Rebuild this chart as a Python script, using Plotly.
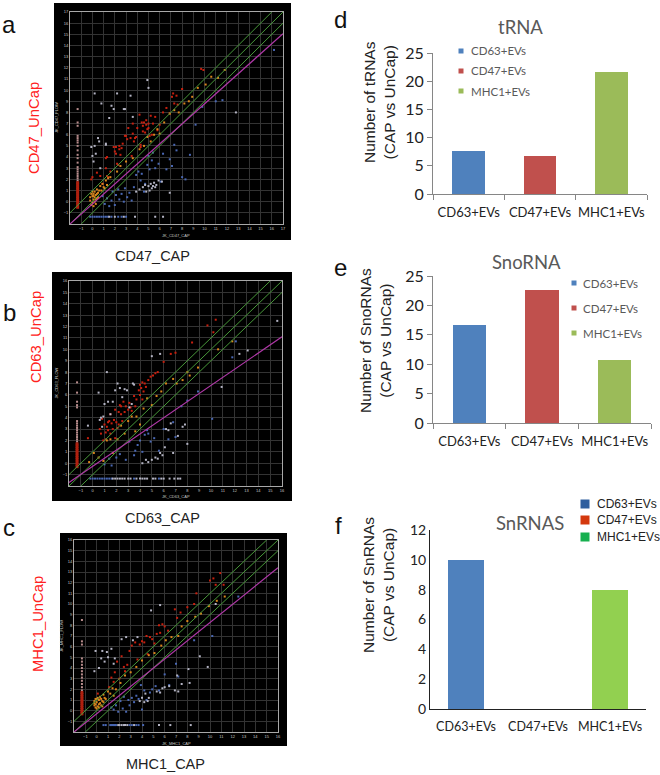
import plotly.graph_objects as go

W, H = 660, 775

CATEGORIES = ["CD63+EVs", "CD47+EVs", "MHC1+EVs"]
TRNA_VALUES = [7.7, 6.7, 21.7]
SNORNA_VALUES = [16.7, 22.7, 10.7]
SNRNA_VALUES = [10, 0, 8]
TRNA_TICKS = [0, 5, 10, 15, 20, 25]
SNRNA_TICKS = [0, 2, 4, 6, 8, 10, 12]

# panel a, CD47
A_TICKS = list(range(-1, 18))
A_MAGENTA_X = [-2, 17]
A_MAGENTA_Y = [-2, 15.05]
A_GREEN_X = [[-2, 16], [-2, 17], [-1, 17]]
A_GREEN_Y = [[-1, 17], [-2, 17], [-2, 16]]
A_RED_X = [0.0, -0.1, 0.4, 0.7, 0.9, 1.2, 1.3, 1.4, 1.6, 1.9, 2.0, 2.1, 2.3, 2.4, 2.5, 2.7, 2.9, 3.0, 3.1, 3.2, 3.4, 3.5, 3.6, 3.7, 3.9, 4.0, 4.2, 4.3, 4.4, 4.5, 4.6, 4.7, 4.8, 4.9, 5.0, 5.1, 5.2, 5.3, 5.4, 5.6, 5.8, 6.0, 6.3, 6.6, 6.9, 7.1, 7.2, 7.3, 7.5, 7.6, 8.0, 9.7, 9.9, 1.2, 1.3, 2.1, 2.2, 2.4, 2.6, 3.6, 3.8, 4.3, 4.5, 4.8, 5.0]
A_RED_Y = [2.2, 2.0, 2.6, 2.3, 1.6, 3.9, 4.0, 2.2, 2.7, 4.9, 4.5, 4.9, 3.3, 4.7, 4.2, 5.2, 5.9, 5.9, 5.6, 6.6, 5.7, 4.1, 7.0, 5.4, 5.8, 6.6, 7.8, 5.1, 7.1, 6.8, 7.1, 6.2, 6.9, 6.5, 7.0, 5.9, 7.7, 6.0, 7.0, 7.6, 6.4, 6.9, 8.0, 8.4, 7.9, 9.4, 9.7, 8.8, 9.5, 8.7, 10.1, 11.9, 11.8, 3.0, 2.3, 4.3, 3.4, 5.0, 4.8, 6.1, 5.7, 4.9, 6.3, 7.3, 6.6]
A_ORANGE_X = [-0.2, -0.1, 0.0, 0.0, 0.1, 0.1, 0.1, 0.2, 0.2, 0.3, 0.3, 0.4, 0.4, 0.5, 0.7, 0.9, 1.1, 1.2, 1.4, 1.6, 2.2, 2.5, 3.0, 3.6, 4.2, 4.6, 4.9, 5.2, 5.5, 5.8, 6.0, 6.4, 6.9, 7.3, 7.7, 8.2, 8.6, 8.9, 9.4, 10.1, 10.6, 11.2, 11.8, -0.2, -0.1, 0.0, 0.1, 0.2, 0.3, 0.4, 0.5, 0.6, 0.8, 1.0, 1.3]
A_ORANGE_Y = [0.1, -0.3, 0.5, -0.1, 0.7, 0.2, -0.4, 0.9, 0.4, 0.6, -0.2, 0.3, 1.1, 0.8, 1.4, 1.6, 1.2, 1.9, 2.1, 2.2, 2.7, 3.2, 3.6, 3.9, 4.7, 5.0, 5.8, 5.4, 6.0, 6.5, 6.1, 7.1, 7.9, 8.2, 8.0, 8.8, 9.0, 9.4, 10.2, 10.5, 11.2, 11.1, 11.8, 0.4, 0.7, 0.9, 0.5, 0.0, 0.2, 0.7, 0.4, 1.0, 1.0, 1.3, 1.5]
A_BLUE_X = [0.9, 1.1, 1.3, 1.5, 1.7, 1.8, 2.0, 2.1, 2.3, 2.4, 2.6, 2.8, 2.9, 3.1, 3.3, 3.5, 3.7, 3.9, 4.1, 4.3, 4.4, 4.6, 4.7, 4.9, 5.0, 5.1, 5.3, 5.4, 5.6, 5.9, 6.1, 6.3, 6.6, 6.9, 7.1, 7.3, 7.5, 8.0, 8.3, 8.7, 9.2, 9.8, 11.0, 11.6, 16.2]
A_BLUE_Y = [0.5, -0.2, 0.3, -0.4, 0.1, 0.9, -0.3, 0.6, 1.1, 0.2, 0.7, 0.0, 1.2, 0.4, 0.8, 0.1, 1.3, 2.4, 2.7, 1.9, 2.5, 0.9, 1.6, 3.3, 4.1, 2.9, 3.7, 4.4, 3.0, 3.4, 1.8, 4.3, 2.9, 3.8, 3.2, 5.1, 4.6, 2.2, 2.0, 4.2, 6.9, 8.5, 9.0, 9.1, 13.6]
A_LIGHT_X = [-0.1, 0.0, 0.1, 0.2, 0.3, 0.5, 0.6, 0.7, 1.2, 1.5, 1.7, 2.2, 2.8, 3.6, 0.2, 0.8, 1.2, 1.9, 2.9, 3.4, 3.9, 4.2, 4.5, 4.7, 4.8, 5.0, 5.1, 5.2, 5.3, 5.4, 5.5, 5.6, 5.7, 5.9, 6.2, 6.9, 4.9, 5.0, 12.8]
A_LIGHT_Y = [4.9, 4.1, 3.6, 5.0, 4.3, 5.7, 5.4, 3.0, 5.2, 7.5, 8.6, 9.7, 8.3, 7.6, 9.7, 8.8, 5.1, 8.3, 8.3, 9.5, 0.9, 1.1, 1.3, 1.5, 0.9, 1.4, 1.0, 1.6, 1.2, 1.4, 1.7, 1.3, 1.5, 1.9, 1.8, 0.8, 10.9, 10.2, 8.0]
A_STRIP_X = -1.32
A_STRIP_RED = [-0.5, -0.3, -0.1, 0.1, 0.3, 0.5, 0.7, 0.9, 1.1, 1.3, 1.5, 1.7]
A_STRIP_PINK = [1.9, 2.1, 2.3, 2.5, 2.7, 2.9, 3.1, 3.5, 3.9, 4.2, 4.6, 5.0, 5.3, 5.5, 5.7, 5.9, 6.8, 7.1, 8.3]
A_ROW_Y = -1.35
A_ROW_BLUE = [-0.2, 0.0, 0.2, 0.4, 0.6, 0.8, 1.0, 1.2, 1.4, 1.7, 2.3, 2.6, 3.0]
A_ROW_LIGHT = [1.5, 2.0, 2.8, 3.8, 5.6, 6.3]

# panel b, CD63
B_TICKS = list(range(-1, 17))
B_MAGENTA_X = [-2, 16]
B_MAGENTA_Y = [-1.7, 11.1]
B_GREEN_X = [[-2, 15], [-2, 16], [-1, 16]]
B_GREEN_Y = [[-1, 16], [-2, 16], [-2, 15]]
B_RED_X = [-0.4, 0.6, 0.7, 0.8, 0.9, 1.0, 1.1, 1.2, 1.3, 1.4, 1.5, 1.6, 1.7, 1.8, 1.9, 2.0, 2.1, 2.2, 2.3, 2.4, 2.5, 2.6, 2.8, 3.0, 3.2, 3.5, 3.7, 3.9, 4.0, 4.1, 4.2, 4.3, 4.5, 4.7, 4.9, 5.1, 5.3, 5.5, 6.0, 6.6, 7.0, 8.4, 9.7, 10.2, 10.4, 1.1, 1.3, 1.5, 1.9, 2.2, 2.4, 2.7, 3.1, 3.3, 3.6, 4.0, 4.2, 4.4]
B_RED_Y = [2.2, 3.0, 2.6, 3.9, 2.0, 3.4, 2.1, 3.2, 2.9, 3.7, 4.3, 3.5, 3.0, 3.8, 4.7, 3.6, 3.1, 4.5, 5.1, 4.3, 3.7, 5.4, 5.0, 4.7, 4.9, 5.9, 5.6, 6.4, 6.9, 6.6, 7.1, 6.3, 6.7, 7.3, 7.6, 7.7, 7.9, 8.0, 8.9, 9.6, 9.7, 10.6, 12.1, 11.5, 12.6, 2.7, 3.6, 2.6, 2.2, 3.4, 5.0, 4.5, 5.3, 4.6, 5.0, 6.0, 5.6, 7.0]
B_ORANGE_X = [-0.3, 0.1, 0.5, 0.9, 1.2, 1.5, 1.7, 2.1, 2.4, 2.7, 3.0, 3.3, 3.6, 3.7, 4.0, 4.3, 4.6, 5.0, 5.4, 5.8, 6.2, 6.8, 7.1, 7.6, 8.0, 8.2, 8.9, 10.6, 11.8]
B_ORANGE_Y = [0.1, 0.9, 0.5, 0.2, 2.0, 2.1, 0.9, 2.1, 3.3, 2.6, 3.7, 4.1, 2.8, 4.1, 3.4, 4.8, 5.7, 5.1, 5.9, 6.3, 7.0, 7.4, 7.0, 7.3, 8.0, 7.7, 8.4, 10.0, 10.7]
B_BLUE_X = [1.0, 1.4, 1.6, 2.0, 2.3, 2.8, 3.1, 3.5, 3.6, 3.8, 4.0, 4.2, 4.4, 4.6, 4.7, 4.9, 5.2, 5.6, 6.0, 6.4, 6.8, 7.0, 7.5, 8.0, 8.9, 10.1, 11.8, 12.1]
B_BLUE_Y = [-0.1, 0.4, -0.2, 0.5, 0.8, 0.3, 1.9, 0.7, 1.1, 1.6, 2.0, 1.0, 2.5, 2.9, 2.6, 1.9, 2.2, 1.1, 3.0, 2.1, 3.6, 2.3, 5.0, 5.5, 6.3, 3.9, 9.3, 10.7]
B_LIGHT_X = [0.6, 0.7, 0.8, 0.9, 1.0, 1.3, 1.5, 1.7, 1.9, 2.1, 2.3, 2.5, 2.7, 2.9, 3.1, 3.3, 3.5, 1.2, 3.4, 4.2, 4.5, 4.7, 5.0, 5.3, 5.5, 5.7, 5.9, 6.1, 6.2, 6.4, 6.6, 6.8, 7.2, 7.6, 7.8, 8.0, 10.9, 12.4, 13.1, 15.6, 5.0, 5.7, -0.4, 0.5]
B_LIGHT_Y = [3.8, 4.0, 3.2, 4.1, 5.2, 5.4, 4.3, 5.4, 6.4, 7.0, 6.6, 5.8, 6.5, 6.4, 4.9, 5.2, 6.9, 8.0, 7.0, 0.0, 0.3, 0.1, 0.3, 0.5, 0.4, 0.9, 0.7, 1.4, 3.0, 2.9, 3.5, 0.9, 2.4, 3.2, 3.4, 1.7, 6.7, 9.6, 9.9, 12.5, 9.4, 9.6, 3.3, 6.2]
B_STRIP_X = -1.32
B_STRIP_RED = [-0.3, -0.1, 0.1, 0.3, 0.5, 0.7, 0.9, 1.1, 1.3, 1.5, 1.7]
B_STRIP_PINK = [1.9, 2.1, 2.3, 2.5, 2.7, 2.9, 3.1, 3.3, 3.5, 3.7, 4.9, 5.1, 5.4, 6.2, 7.1]
B_ROW_Y = -1.35
B_ROW_BLUE = [-0.2, 0.0, 0.2, 0.4, 0.6, 0.8, 1.0, 1.2, 1.4, 1.6, 3.5, 5.6]
B_ROW_LIGHT = [1.7, 1.9, 2.1, 2.3, 2.5, 2.7, 3.0, 3.2, 3.7, 4.0, 4.2, 4.4, 4.6, 5.1, 5.3, 5.8, 6.0, 6.5, 6.9, 7.2, 7.4]

# panel c, MHC1
C_TICKS = list(range(-1, 17))
C_MAGENTA_X = [-2, 16]
C_MAGENTA_Y = [-2, 13.4]
C_GREEN_X = [[-2, 15], [-2, 16], [-1, 16]]
C_GREEN_Y = [[-1, 16], [-2, 16], [-2, 15]]
C_RED_X = [0.1, 0.3, 1.1, 1.3, 1.5, 1.6, 1.8, 2.0, 2.2, 2.4, 2.5, 2.7, 2.9, 3.1, 3.4, 3.6, 3.8, 4.0, 4.2, 4.4, 4.5, 4.7, 4.9, 5.1, 5.3, 5.5, 5.6, 5.8, 6.0, 6.3, 6.9, 7.1, 7.4, 8.0, 8.6, 8.8, 10.0, 10.3, 10.5, 10.9, 11.2]
C_RED_Y = [1.6, 1.2, 2.2, 3.1, 2.7, 3.6, 4.6, 3.0, 5.1, 4.1, 3.7, 4.3, 5.6, 6.1, 6.4, 4.8, 6.2, 6.5, 6.4, 7.0, 5.3, 6.9, 6.7, 6.3, 7.2, 8.0, 7.3, 8.1, 7.9, 7.5, 9.5, 8.7, 9.2, 9.7, 10.0, 11.0, 12.2, 12.4, 11.8, 12.9, 11.8]
C_ORANGE_X = [-0.2, -0.2, -0.1, -0.1, 0.0, 0.0, 0.1, 0.1, 0.2, 0.2, 0.3, 0.3, 0.4, 0.5, 0.6, 0.8, 1.0, 1.2, 1.4, 1.5, 1.7, 2.1, 2.5, 3.0, 3.5, 4.0, 4.6, 5.1, 5.7, 6.1, 6.6, 7.2, 7.5, 8.0, 8.7, 9.2, 9.9, 10.6, 11.3, -0.2, -0.1, 0.0, 0.2, 0.4, 0.5, 0.6, 0.7]
C_ORANGE_Y = [0.5, 0.9, 0.3, 1.1, 0.2, 0.8, 1.2, 0.4, 1.0, 0.3, 0.7, 1.3, 0.5, 0.9, 1.5, 1.1, 1.8, 1.6, 2.1, 1.4, 2.0, 2.6, 3.3, 3.6, 4.1, 4.7, 5.2, 5.4, 6.1, 6.6, 6.9, 7.0, 7.9, 8.4, 8.8, 9.1, 9.8, 10.3, 10.7, 0.7, 0.6, 1.1, 0.6, 1.1, 0.4, 0.8, 1.2]
C_BLUE_X = [1.3, 1.5, 1.7, 1.9, 2.1, 2.3, 2.4, 2.6, 2.8, 2.9, 3.1, 3.3, 3.5, 3.7, 3.9, 4.0, 4.2, 4.4, 4.7, 4.9, 5.2, 5.5, 6.0, 6.4, 7.0, 7.2, 8.6, 10.2, 12.5]
C_BLUE_Y = [0.3, 0.1, 0.5, -0.1, 0.9, 0.2, 1.3, -0.1, 1.0, 0.5, 1.2, 0.8, 1.4, 1.1, 2.4, 0.1, 1.9, 1.0, 1.7, 2.0, 2.3, 1.9, 3.4, 2.4, 4.4, 3.2, 6.6, 7.0, 10.7]
C_LIGHT_X = [-0.2, -0.1, 0.2, 0.4, 0.5, 0.7, 0.9, 1.0, 1.3, 1.5, 1.6, 2.2, 2.6, 3.2, 3.6, 3.8, 4.0, 4.2, 4.3, 4.5, 4.6, 5.3, 5.6, 5.8, 6.0, 6.4, 6.9, 7.1, 7.2, 7.5, 8.1, 8.2, 9.1, 9.8, 4.8, 5.6, 10.5]
C_LIGHT_Y = [3.7, 5.6, 4.0, 4.9, 5.6, 4.6, 5.5, 5.0, 5.8, 4.4, 4.9, 6.7, 6.9, 6.6, 6.9, 0.9, 1.2, 0.8, 1.6, 0.9, 1.2, 1.8, 1.7, 2.1, 2.2, 2.3, 1.9, 3.3, 1.8, 2.5, 3.9, 2.6, 5.1, 4.1, 9.4, 9.9, 10.0]
C_STRIP_X = -1.3
C_STRIP_RED = [-0.3, -0.1, 0.1, 0.3, 0.5, 0.7, 0.9, 1.1, 1.3, 1.5, 1.7]
C_STRIP_PINK = [1.9, 2.2, 2.5, 2.8, 3.1, 3.4, 3.7, 4.0, 4.3, 4.6, 4.9, 6.2, 6.5, 8.5]
C_ROW_Y = -1.35
C_ROW_BLUE = [1.2, 1.3, 1.4, 1.5, 1.6, 1.7, 0.6, 0.8, 2.9, 3.1, 3.5, 3.7, 4.1]
C_ROW_LIGHT = [1.9, 2.0, 2.2, 2.4, 2.5, 2.7, 3.3, 5.5, 6.5, 8.3]

RED, ORANGE, BLUE, LIGHT, PINK = "#c8200f", "#d8861c", "#4a68b4", "#b4b4c4", "#b88c8c"
STRIP_RED = "#b0200f"
GREEN, MAGENTA = "#48983a", "#b038a8"
BAR_COLORS = ["#4f81bd", "#c0504d", "#9bbb59"]
F_BAR_COLORS = ["#4f81bd", "#c0504d", "#92d050"]
F_SWATCHES = ["#2f5f9e", "#d4380d", "#17b04f"]
SANS = "Liberation Sans"
CALIBRI = "Lato"

fig = go.Figure()


def px_x(x):
    return x / W


def px_y(y):
    return 1 - y / H


def label(text, x, y, size=16, color="#222222", font=SANS, angle=0, anchor="center"):
    fig.add_annotation(text=text, x=px_x(x), y=px_y(y), xref="paper", yref="paper", showarrow=False,
                       font={"size": size, "color": color, "family": font}, textangle=angle,
                       xanchor=anchor, yanchor="middle")


def scatter_panel(n, box, area, ticks, name, magenta, green, groups, strip, row):
    suffix = "" if n == 1 else str(n)
    fig.add_shape(type="rect", xref="paper", yref="paper", layer="below", line_width=0, fillcolor="#000000",
                  x0=px_x(box[0]), x1=px_x(box[2]), y0=px_y(box[3]), y1=px_y(box[1]))
    axis = {"range": [-2, ticks[-1]], "tickmode": "array", "tickvals": ticks, "showgrid": True, "gridcolor": "#333333",
            "gridwidth": 1, "zeroline": False, "showline": True, "linecolor": "#a8a8a8", "linewidth": 1, "mirror": True,
            "ticks": "", "tickangle": 0, "tickfont": {"size": 4, "color": "#c8c8c8", "family": SANS}}
    fig.update_layout({
        f"xaxis{suffix}": {**axis, "domain": [px_x(area[0]), px_x(area[2])], "anchor": f"y{suffix}"},
        f"yaxis{suffix}": {**axis, "domain": [px_y(area[3]), px_y(area[1])], "anchor": f"x{suffix}"},
    })
    label(f"JK_{name}_CAP", (area[0] + area[2]) / 2, area[3] + 11, size=4, color="#c8c8c8")
    label(f"JK_{name}_FLOW", area[0] - 13, (area[1] + area[3]) / 2, size=4, color="#c8c8c8", angle=-90)

    def points(xs, ys, color, size=2):
        fig.add_trace(go.Scatter(x=xs, y=ys, mode="markers", xaxis=f"x{suffix}", yaxis=f"y{suffix}", showlegend=False,
                                 marker={"symbol": "square", "size": size, "color": color, "line_width": 0}))

    for xs, ys, color in groups:
        points(xs, ys, color)
    strip_x, strip_red, strip_pink = strip
    points([strip_x] * len(strip_pink), strip_pink, PINK)
    points([strip_x] * len(strip_red), strip_red, STRIP_RED, size=3)
    row_y, row_blue, row_light = row
    points(row_blue, [row_y] * len(row_blue), BLUE)
    points(row_light, [row_y] * len(row_light), LIGHT)
    for xs, ys in zip(*green):
        fig.add_trace(go.Scatter(x=xs, y=ys, mode="lines", xaxis=f"x{suffix}", yaxis=f"y{suffix}", showlegend=False,
                                 line={"color": GREEN, "width": 1}))
    fig.add_trace(go.Scatter(x=magenta[0], y=magenta[1], mode="lines", xaxis=f"x{suffix}", yaxis=f"y{suffix}", showlegend=False,
                             line={"color": MAGENTA, "width": 1.2}))


def bar_panel(n, area, values, ticks, colors, gap, ytitle, line_color, title_pos, tick_marks=True, tick_size=16, cat_size=13):
    suffix = str(n)
    fig.add_trace(go.Bar(x=CATEGORIES, y=values, marker={"color": colors, "line_width": 0}, width=1 - gap,
                         xaxis=f"x{suffix}", yaxis=f"y{suffix}", showlegend=False))
    fig.update_layout({
        f"xaxis{suffix}": {"domain": [px_x(area[0]), px_x(area[2])], "anchor": f"y{suffix}", "showline": True,
                           "linecolor": line_color, "linewidth": 1, "tickson": "boundaries", "showgrid": False,
                           "ticks": "outside" if tick_marks else "", "ticklen": 5, "tickcolor": line_color, "tickangle": 0,
                           "tickfont": {"size": cat_size, "color": "#222222", "family": CALIBRI},
                           "ticklabelstandoff": 6},
        f"yaxis{suffix}": {"domain": [px_y(area[3]), px_y(area[1])], "anchor": f"x{suffix}", "range": [0, ticks[-1]],
                           "tickmode": "array", "tickvals": ticks, "showline": True, "linecolor": line_color, "linewidth": 1,
                           "showgrid": False, "zeroline": False, "ticks": "outside" if tick_marks else "", "ticklen": 5,
                           "tickcolor": line_color, "tickfont": {"size": tick_size, "color": "#222222", "family": CALIBRI}},
    })
    label(ytitle, title_pos[0], title_pos[1], size=15.5, angle=-90)


def legend(xs, ys, size, colors, text_x, text_size, text_color, font):
    for y, color, name in zip(ys, colors, CATEGORIES):
        fig.add_shape(type="rect", xref="paper", yref="paper", line_width=0, fillcolor=color,
                      x0=px_x(xs - size / 2), x1=px_x(xs + size / 2), y0=px_y(y + size / 2), y1=px_y(y - size / 2))
        label(name, text_x, y, size=text_size, color=text_color, font=font, anchor="left")


scatter_panel(1, (54, 3, 291, 240), (70, 12, 283, 224), A_TICKS, "CD47", (A_MAGENTA_X, A_MAGENTA_Y), (A_GREEN_X, A_GREEN_Y),
              [(A_BLUE_X, A_BLUE_Y, BLUE), (A_RED_X, A_RED_Y, RED), (A_ORANGE_X, A_ORANGE_Y, ORANGE), (A_LIGHT_X, A_LIGHT_Y, LIGHT)],
              (A_STRIP_X, A_STRIP_RED, A_STRIP_PINK), (A_ROW_Y, A_ROW_BLUE, A_ROW_LIGHT))
scatter_panel(2, (52, 272, 292, 501), (69, 281, 282, 486), B_TICKS, "CD63", (B_MAGENTA_X, B_MAGENTA_Y), (B_GREEN_X, B_GREEN_Y),
              [(B_BLUE_X, B_BLUE_Y, BLUE), (B_RED_X, B_RED_Y, RED), (B_ORANGE_X, B_ORANGE_Y, ORANGE), (B_LIGHT_X, B_LIGHT_Y, LIGHT)],
              (B_STRIP_X, B_STRIP_RED, B_STRIP_PINK), (B_ROW_Y, B_ROW_BLUE, B_ROW_LIGHT))
scatter_panel(3, (60, 533, 287, 746), (74, 540, 278, 732), C_TICKS, "MHC1", (C_MAGENTA_X, C_MAGENTA_Y), (C_GREEN_X, C_GREEN_Y),
              [(C_BLUE_X, C_BLUE_Y, BLUE), (C_RED_X, C_RED_Y, RED), (C_ORANGE_X, C_ORANGE_Y, ORANGE), (C_LIGHT_X, C_LIGHT_Y, LIGHT)],
              (C_STRIP_X, C_STRIP_RED, C_STRIP_PINK), (C_ROW_Y, C_ROW_BLUE, C_ROW_LIGHT))

bar_panel(4, (433, 53, 647, 194), TRNA_VALUES, TRNA_TICKS, BAR_COLORS, 0.54, "Number of tRNAs<br>(CAP vs UnCap)", "#868686", (380, 102))
bar_panel(5, (433, 276, 651, 423), SNORNA_VALUES, TRNA_TICKS, BAR_COLORS, 0.54, "Number of SnoRNAs<br>(CAP vs UnCap)", "#868686", (376, 341))
bar_panel(6, (430, 530, 646, 709), SNRNA_VALUES, SNRNA_TICKS, F_BAR_COLORS, 0.49, "Number of SnRNAs<br>(CAP vs UnCap)", "#222222", (378, 585),
          tick_marks=False, tick_size=14, cat_size=12.5)

legend(461, [51, 71, 91], 5, BAR_COLORS, 469, 11.5, "#595959", CALIBRI)
legend(574, [283, 308, 333], 5, BAR_COLORS, 581, 11.5, "#595959", CALIBRI)
legend(585, [504, 520, 537], 9, F_SWATCHES, 595, 12, "#222222", SANS)

label("tRNA", 520, 27, size=18.5, color="#595959", font=CALIBRI)
label("SnoRNA", 526, 262, size=18.5, color="#595959", font=CALIBRI)
label("SnRNAS", 530, 523, size=18.5, color="#595959", font=CALIBRI)

label("CD47_UnCap", 34, 128, size=14.8, color="#ff2020", angle=-90)
label("CD63_UnCap", 36, 337, size=14.8, color="#ff2020", angle=-90)
label("MHC1_UnCap", 38, 624, size=14.8, color="#ff2020", angle=-90)
label("CD47_CAP", 152, 256, size=14.5)
label("CD63_CAP", 162, 518, size=14.5)
label("MHC1_CAP", 165, 764, size=14.5)

label("a", 9, 24, size=24, color="#111111")
label("b", 9, 313, size=24, color="#111111")
label("c", 9, 527, size=24, color="#111111")
label("d", 340, 20, size=24, color="#111111")
label("e", 340, 267, size=24, color="#111111")
label("f", 338, 525, size=24, color="#111111")

fig.update_layout(width=W, height=H, margin={"l": 0, "r": 0, "t": 0, "b": 0, "autoexpand": False}, paper_bgcolor="#ffffff",
                  plot_bgcolor="rgba(0,0,0,0)", showlegend=False, bargap=0)
fig.write_html("out.html", config={"displayModeBar": False}, post_script="document.body.style.margin='0';")
